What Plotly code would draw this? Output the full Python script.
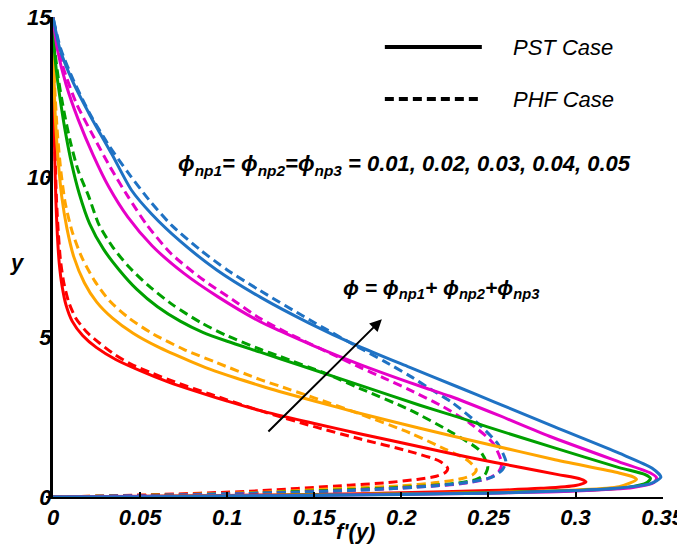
import plotly.graph_objects as go

# ---------------- data (f'(y) on x, y on vertical) ----------------
# PST case (solid), phi = 0.01 ... 0.05
pst_001_f = [0, 0.05, 0.10, 0.15, 0.20, 0.25, 0.28, 0.300, 0.306, 0.303, 0.29, 0.268, 0.24, 0.2106, 0.176, 0.15, 0.119, 0.10, 0.084, 0.066, 0.050, 0.036, 0.025, 0.017, 0.011, 0.0075, 0.0052, 0.0036, 0.0025, 0.0017, 0.0011, 0.0006, 0.0002, 0]
pst_001_y = [0, 0.02, 0.05, 0.08, 0.13, 0.20, 0.27, 0.36, 0.47, 0.56, 0.70, 0.93, 1.23, 1.57, 1.98, 2.3, 2.7, 3.0, 3.27, 3.6, 3.95, 4.3, 4.67, 5.05, 5.5, 6.0, 6.6, 7.3, 8.2, 9.2, 10.4, 11.8, 13.4, 15]

pst_002_f = [0, 0.05, 0.1, 0.15, 0.2, 0.25, 0.3, 0.325, 0.335, 0.333, 0.325, 0.287, 0.249, 0.2106, 0.176, 0.15, 0.13, 0.119, 0.105, 0.09, 0.0786, 0.06, 0.046, 0.034, 0.025, 0.018, 0.012, 0.008, 0.005, 0.003, 0.0015, 0.0006, 0]
pst_002_y = [0, 0.015, 0.04, 0.07, 0.1, 0.14, 0.22, 0.32, 0.55, 0.63, 0.75, 1.18, 1.66, 2.15, 2.62, 3.0, 3.3, 3.48, 3.72, 4.0, 4.25, 4.7, 5.12, 5.6, 6.1, 6.7, 7.5, 8.4, 9.4, 10.5, 11.7, 13, 15]

pst_003_f = [0, 0.05, 0.1, 0.15, 0.2, 0.25, 0.3, 0.33, 0.341, 0.343, 0.34, 0.325, 0.287, 0.249, 0.2335, 0.2106, 0.176, 0.15, 0.13, 0.119, 0.1, 0.086, 0.073, 0.06, 0.048, 0.038, 0.029, 0.021, 0.015, 0.0108, 0.0075, 0.0045, 0.002, 0.0005, 0]
pst_003_y = [0, 0.015, 0.035, 0.06, 0.09, 0.13, 0.2, 0.3, 0.45, 0.58, 0.7, 0.92, 1.55, 2.2, 2.48, 2.87, 3.5, 3.97, 4.33, 4.53, 4.87, 5.15, 5.5, 5.95, 6.5, 7.1, 7.75, 8.55, 9.5, 10.4, 11.3, 12.3, 13.3, 14.2, 15]

pst_004_f = [0, 0.05, 0.1, 0.15, 0.2, 0.25, 0.3, 0.333, 0.345, 0.3465, 0.343, 0.325, 0.285, 0.256, 0.228, 0.2106, 0.176, 0.15, 0.13, 0.119, 0.095, 0.075, 0.057, 0.043, 0.032, 0.023, 0.0145, 0.0075, 0.0025, 0]
pst_004_y = [0, 0.012, 0.03, 0.055, 0.085, 0.12, 0.19, 0.3, 0.45, 0.6, 0.75, 1.1, 1.9, 2.55, 3.15, 3.47, 4.15, 4.72, 5.2, 5.48, 6.25, 7.0, 7.85, 8.75, 9.7, 10.7, 11.8, 12.9, 14, 15]

pst_005_f = [0, 0.05, 0.1, 0.15, 0.2, 0.25, 0.3, 0.325, 0.343, 0.349, 0.344, 0.325, 0.288, 0.2535, 0.2325, 0.2045, 0.174, 0.147, 0.119, 0.094, 0.073, 0.0566, 0.045, 0.034, 0.0212, 0.0115, 0.004, 0]
pst_005_y = [0, 0.01, 0.03, 0.05, 0.08, 0.12, 0.2, 0.28, 0.42, 0.62, 0.9, 1.37, 2.19, 2.97, 3.44, 4.06, 4.75, 5.44, 6.25, 7.1, 8.0, 8.85, 9.6, 10.7, 11.94, 12.97, 14.0, 15]

# PHF case (dashed), phi = 0.01 ... 0.05
phf_001_f = [0, 0.056, 0.113, 0.17, 0.19, 0.209, 0.22, 0.2255, 0.2266, 0.222, 0.205, 0.176, 0.15, 0.119, 0.09, 0.07, 0.0574, 0.045, 0.0355, 0.027, 0.0195, 0.013, 0.009, 0.0062, 0.0043, 0.003, 0.002, 0.0013, 0.0007, 0.0002, 0]
phf_001_y = [0, 0.07, 0.18, 0.37, 0.44, 0.55, 0.65, 0.78, 0.9, 1.12, 1.42, 1.82, 2.2, 2.7, 3.22, 3.6, 3.86, 4.15, 4.45, 4.8, 5.15, 5.6, 6.1, 6.7, 7.4, 8.3, 9.3, 10.5, 11.9, 13.4, 15]

phf_002_f = [0, 0.06, 0.12, 0.17, 0.2, 0.22, 0.235, 0.241, 0.243, 0.238, 0.225, 0.205, 0.176, 0.15, 0.13, 0.119, 0.094, 0.075, 0.0574, 0.044, 0.0327, 0.024, 0.0165, 0.011, 0.007, 0.0045, 0.0025, 0.001, 0.0002, 0]
phf_002_y = [0, 0.06, 0.15, 0.28, 0.35, 0.45, 0.58, 0.7, 0.85, 1.15, 1.5, 2.0, 2.6, 3.1, 3.47, 3.67, 4.2, 4.62, 5.1, 5.58, 6.12, 6.75, 7.5, 8.3, 9.2, 10.2, 11.4, 12.8, 14, 15]

phf_003_f = [0, 0.06, 0.12, 0.17, 0.2, 0.23, 0.243, 0.248, 0.2496, 0.245, 0.2295, 0.205, 0.176, 0.157, 0.13, 0.119, 0.0996, 0.085, 0.069, 0.055, 0.0435, 0.0345, 0.0265, 0.0205, 0.0145, 0.01, 0.0065, 0.0033, 0.001, 0]
phf_003_y = [0, 0.055, 0.13, 0.23, 0.3, 0.42, 0.55, 0.7, 0.95, 1.45, 2.0, 2.72, 3.4, 3.85, 4.4, 4.62, 5.05, 5.45, 6.0, 6.6, 7.2, 7.8, 8.5, 9.4, 10.2, 11.1, 12.0, 13.0, 14.0, 15]

phf_004_f = [0, 0.06, 0.12, 0.17, 0.2, 0.235, 0.25, 0.256, 0.2576, 0.2525, 0.2395, 0.224, 0.205, 0.19, 0.176, 0.157, 0.135, 0.119, 0.105, 0.086, 0.068, 0.054, 0.043, 0.033, 0.023, 0.0135, 0.0055, 0]
phf_004_y = [0, 0.05, 0.12, 0.2, 0.28, 0.42, 0.58, 0.8, 1.05, 1.69, 2.3, 2.82, 3.34, 3.72, 4.06, 4.55, 5.12, 5.58, 6.1, 6.8, 7.6, 8.5, 9.4, 10.3, 11.3, 12.3, 13.5, 15]

phf_005_f = [0, 0.05, 0.1, 0.17, 0.22, 0.24, 0.252, 0.258, 0.26, 0.258, 0.255, 0.245, 0.2295, 0.216, 0.205, 0.19, 0.174, 0.147, 0.119, 0.1, 0.084, 0.068, 0.055, 0.043, 0.032, 0.021, 0.012, 0.0045, 0]
phf_005_y = [0, 0.04, 0.09, 0.2, 0.35, 0.47, 0.62, 0.85, 1.1, 1.4, 1.69, 2.25, 2.94, 3.4, 3.78, 4.25, 4.72, 5.55, 6.45, 7.1, 7.75, 8.5, 9.3, 10.15, 11.0, 12.0, 13.0, 14.0, 15]

phi_labels = ["0.01", "0.02", "0.03", "0.04", "0.05"]
colors = ["#ff0000", "#ffa500", "#00a000", "#e600c8", "#1f72c4"]

x_tickvals = [0, 0.05, 0.1, 0.15, 0.2, 0.25, 0.3, 0.35]
x_ticktext = ["0", "0.05", "0.1", "0.15", "0.2", "0.25", "0.3", "0.35"]
y_tickvals = [0, 5, 10, 15]
y_ticktext = ["0", "5", "10", "15"]

pst = [(pst_001_f, pst_001_y), (pst_002_f, pst_002_y), (pst_003_f, pst_003_y),
       (pst_004_f, pst_004_y), (pst_005_f, pst_005_y)]
phf = [(phf_001_f, phf_001_y), (phf_002_f, phf_002_y), (phf_003_f, phf_003_y),
       (phf_004_f, phf_004_y), (phf_005_f, phf_005_y)]

FONT = "Liberation Sans, Arial, sans-serif"

fig = go.Figure()
for (f, y), c, lab in zip(phf, colors, phi_labels):
    fig.add_trace(go.Scatter(x=f, y=y, mode="lines", name="PHF " + lab,
                             line=dict(color=c, width=3, dash="9px,5px",
                                       shape="spline", smoothing=0.7),
                             showlegend=False))
for (f, y), c, lab in zip(pst, colors, phi_labels):
    fig.add_trace(go.Scatter(x=f, y=y, mode="lines", name="PST " + lab,
                             line=dict(color=c, width=3, shape="spline", smoothing=0.7),
                             showlegend=False))

tickfont = dict(family=FONT, size=22, color="black", weight="bold", style="italic")

# page body has an 8px margin: figure is 8px smaller so the plot area lands right
fig.update_layout(
    width=677, height=545,
    margin=dict(l=45, r=22, t=9, b=56, autoexpand=False),
    paper_bgcolor="white", plot_bgcolor="white",
    xaxis=dict(range=[0, 0.3502], showgrid=False, zeroline=False, showline=True,
               automargin=False, ticklabeloverflow="allow",
               linecolor="black", linewidth=2, ticks="inside", ticklen=5,
               tickwidth=2, tickcolor="black", tickvals=x_tickvals,
               ticktext=x_ticktext, tickfont=tickfont),
    yaxis=dict(range=[0, 15.01], showgrid=False, zeroline=False, showline=True,
               automargin=False, ticklabelstandoff=-10, ticklabeloverflow="allow",
               linecolor="black", linewidth=3, ticks="outside", ticklen=4,
               tickwidth=2, tickcolor="black", tickvals=y_tickvals,
               ticktext=y_ticktext, tickfont=tickfont),
)

bi = dict(family=FONT, size=22, color="black", weight="bold", style="italic")
it = dict(family=FONT, size=22, color="black", style="italic")

# legend keys (paper coords)
fig.add_shape(type="line", xref="paper", yref="paper", x0=0.544, x1=0.703,
              y0=0.9375, y1=0.9375, line=dict(color="black", width=4))
fig.add_shape(type="line", xref="paper", yref="paper", x0=0.544, x1=0.703,
              y0=0.829, y1=0.829, line=dict(color="black", width=4, dash="9px,5px"))
fig.add_annotation(xref="paper", yref="paper", x=0.751, y=0.9375, text="PST Case",
                   showarrow=False, xanchor="left", yanchor="middle", font=it)
fig.add_annotation(xref="paper", yref="paper", x=0.751, y=0.829, text="PHF Case",
                   showarrow=False, xanchor="left", yanchor="middle", font=it)

fig.add_annotation(x=0.0705, y=10.38, xref="x", yref="y",
                   text="ϕ<sub>np1</sub>= ϕ<sub>np2</sub>=ϕ<sub>np3</sub> = 0.01, 0.02, 0.03, 0.04, 0.05",
                   showarrow=False, xanchor="left", yanchor="middle", font=bi)
fig.add_annotation(x=0.1655, y=6.5, xref="x", yref="y",
                   text="ϕ = ϕ<sub>np1</sub>+ ϕ<sub>np2</sub>+ϕ<sub>np3</sub>",
                   showarrow=False, xanchor="left", yanchor="middle",
                   font=dict(bi, size=21))
# arrow
fig.add_annotation(x=0.1888, y=5.56, ax=0.1228, ay=2.0, xref="x", yref="y",
                   axref="x", ayref="y", text="", showarrow=True, arrowhead=2,
                   arrowsize=1.2, arrowwidth=2, arrowcolor="black")
# axis titles
fig.add_annotation(xref="paper", yref="paper", x=(17 - 53) / 610, y=(497 - 262) / 480,
                   text="y", showarrow=False, xanchor="center", yanchor="middle", font=bi)
fig.add_annotation(xref="paper", yref="paper", x=(355 - 53) / 610, y=(497 - 531) / 480,
                   text="f'(y)", showarrow=False, xanchor="center", yanchor="middle", font=bi)

fig.write_html("out.html")
